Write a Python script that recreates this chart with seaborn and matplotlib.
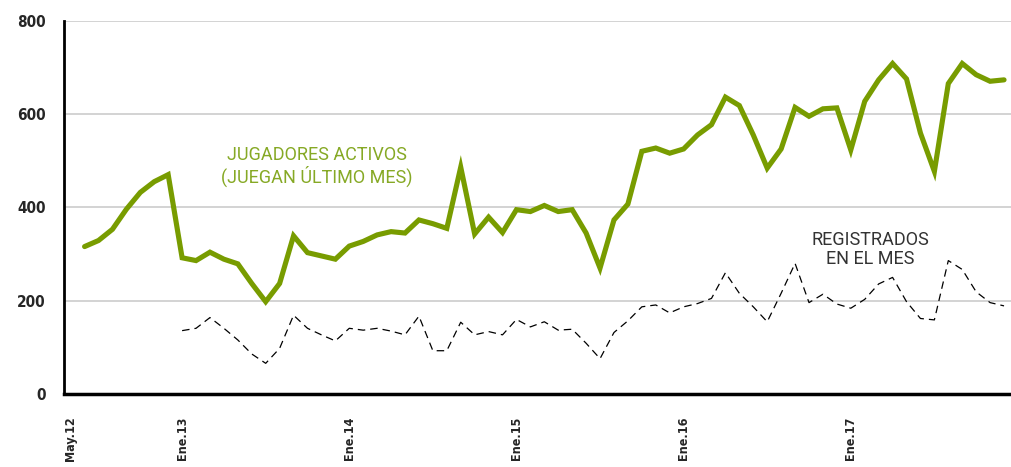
import matplotlib
matplotlib.use("Agg")
import matplotlib.pyplot as plt
import seaborn as sns
import numpy as np
import pandas as pd

# Meses de May.12 a Dic.17 (68 categorías)
meses_es = ["Ene", "Feb", "Mar", "Abr", "May", "Jun", "Jul", "Ago", "Sep", "Oct", "Nov", "Dic"]
meses = [f"{meses_es[(4 + i) % 12]}.{12 + (4 + i) // 12}" for i in range(68)]
etiquetas = ["May.12", "Ene.13", "Ene.14", "Ene.15", "Ene.16", "Ene.17"]

# Jugadores activos (Jun.12 - Dic.17)
activos = [316, 329, 353, 396, 432, 455, 470,
           292, 286, 304, 289, 279, 237, 198, 237, 339, 303, 296, 289,
           317, 327, 341, 348, 345, 373, 365, 355, 486, 343, 379, 346,
           395, 391, 404, 391, 395, 345, 270, 373, 407, 520, 527, 516,
           525, 555, 577, 636, 618, 555, 484, 525, 614, 595, 611, 613,
           523, 627, 673, 708, 675, 559, 477, 665, 708, 684, 670, 673]

# Registrados en el mes (Ene.13 - Dic.17)
registrados = [136, 141, 164, 141, 116, 86, 66, 98, 169, 141, 127, 114,
               141, 137, 141, 135, 127, 167, 93, 93, 154, 127, 134, 127,
               160, 144, 155, 137, 139, 109, 76, 132, 157, 187, 191, 174,
               187, 194, 205, 260, 216, 187, 155, 216, 280, 196, 214, 193,
               184, 203, 236, 250, 198, 162, 159, 286, 267, 219, 196, 189]

df_act = pd.DataFrame({"x": np.arange(68 - len(activos), 68), "valor": activos})
df_reg = pd.DataFrame({"x": np.arange(68 - len(registrados), 68), "valor": registrados})

sns.set_style("white")
plt.rcParams["font.family"] = ["DejaVu Sans"]
plt.rcParams["font.stretch"] = "condensed"

fig = plt.figure(figsize=(10.11, 4.67), dpi=100)
ax = fig.add_axes([0.063, 0.156, 0.937, 0.80])

verde = "#789c00"
sns.lineplot(data=df_act, x="x", y="valor", ax=ax, color=verde, linewidth=3.7,
             solid_joinstyle="miter", solid_capstyle="round", zorder=3)
sns.lineplot(data=df_reg, x="x", y="valor", ax=ax, color="black", linewidth=0.9,
             dashes=False, zorder=3)
ax.lines[-1].set_dashes([6, 4])

ax.set_xlim(-0.5, 67.5)
ax.set_ylim(0, 800)
ax.set_yticks([0, 200, 400, 600, 800])
ax.yaxis.grid(True, color="#cccccc", linewidth=1.2)
ax.set_axisbelow(True)

pos = [meses.index(e) for e in etiquetas]
ax.set_xticks(pos)
ax.set_xticklabels(etiquetas, rotation=90, fontsize=9, fontweight="bold")
ax.set_xticks(np.arange(-0.5, 67.6, 1), minor=True)
ax.tick_params(axis="x", which="major", length=0, pad=16)
ax.tick_params(axis="x", which="minor", length=5, width=1.5, color="black", direction="out")
ax.tick_params(axis="y", length=7, width=1.5, color="black", direction="out",
               pad=6, labelsize=11)
for t in ax.get_yticklabels():
    t.set_fontweight("bold")

ax.set_xlabel("")
ax.set_ylabel("")
sns.despine(ax=ax, top=True, right=True)
ax.spines["left"].set_linewidth(2)
ax.spines["left"].set_color("black")
ax.spines["bottom"].set_linewidth(2.5)
ax.spines["bottom"].set_color("black")

ax.text(17.7, 488, "JUGADORES ACTIVOS\n(JUEGAN ÚLTIMO MES)", color="#86a925",
        ha="center", va="center", fontsize=13, family=["Roboto", "DejaVu Sans"],
        fontstretch="normal", linespacing=1.1)
ax.text(57.4, 310, "REGISTRADOS\nEN EL MES", color="#333333",
        ha="center", va="center", fontsize=13, family=["Roboto", "DejaVu Sans"],
        fontstretch="normal", linespacing=1.1)

fig.savefig("out.png", dpi=100)
